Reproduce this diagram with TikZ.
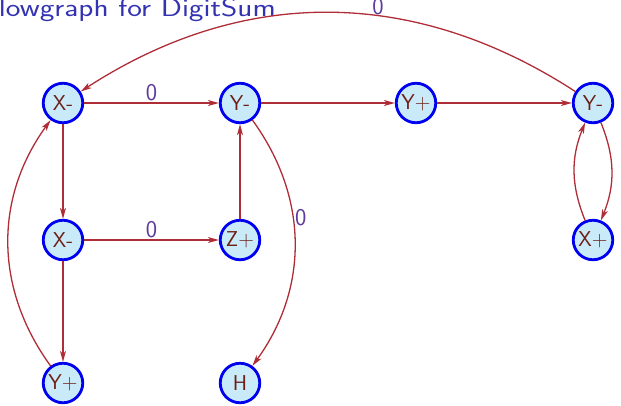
\documentclass[tikz,border=0pt]{standalone}
\usepackage{fontspec}
\usepackage{graphicx}
\usetikzlibrary{arrows.meta}
\definecolor{nodefill}{RGB}{200,234,249}
\definecolor{nodedraw}{RGB}{0,0,240}
\definecolor{nodetext}{RGB}{110,30,20}
\definecolor{edgecol}{RGB}{175,45,55}
\definecolor{labelcol}{RGB}{95,60,155}
\definecolor{titlecol}{RGB}{51,51,178}
\begin{document}
\begin{tikzpicture}[x=1pt,y=1pt,
  state/.style={circle,draw=nodedraw,fill=nodefill,line width=2.8pt,minimum size=39.5pt,inner sep=0pt,text=nodetext,font=\sffamily\fontsize{21.5}{23}\selectfont},
  edge/.style={draw=edgecol,line width=1.3pt,-{Stealth[length=11pt,width=6pt,inset=3pt]}},
  lbl/.style={text=labelcol,font=\sffamily\fontsize{24}{26}\selectfont,inner sep=1.5pt}]
\useasboundingbox (0,-405) rectangle (621,0);
\node[anchor=base east,inner sep=0pt,text=titlecol,font=\sffamily\fontsize{25.5}{28}\selectfont] (title) at (276,-16) {\resizebox{293.5pt}{\height}{Flowgraph for DigitSum}};
\node[state] (xa) at (63,-103) {X-};
\node[state] (ya) at (240,-103) {Y-};
\node[state] (yp) at (416,-103) {Y+};
\node[state] (yb) at (593,-103) {Y-};
\node[state] (xb) at (63,-240) {X-};
\node[state] (zp) at (240,-240) {Z+};
\node[state] (xp) at (593,-240) {X+};
\node[state] (yq) at (63,-383) {Y+};
\node[state] (h) at (240,-383) {H};
\draw[edge] (xa) -- node[lbl,above] {0} (ya);
\draw[edge] (ya) -- (yp);
\draw[edge] (yp) -- (yb);
\draw[edge] (yb) to[bend right=33] node[lbl,pos=0.4,above,inner sep=0pt] {0} (xa);
\draw[edge] (yb) to[bend left=22] (xp);
\draw[edge] (xp) to[bend left=22] (yb);
\draw[edge] (xa) -- (xb);
\draw[edge] (xb) -- node[lbl,above] {0} (zp);
\draw[edge] (zp) -- (ya);
\draw[edge] (ya) to[bend left=36] node[lbl,pos=0.4,right] {0} (h);
\draw[edge] (xb) -- (yq);
\draw[edge] (yq) to[bend left=36] (xa);
\end{tikzpicture}
\end{document}
